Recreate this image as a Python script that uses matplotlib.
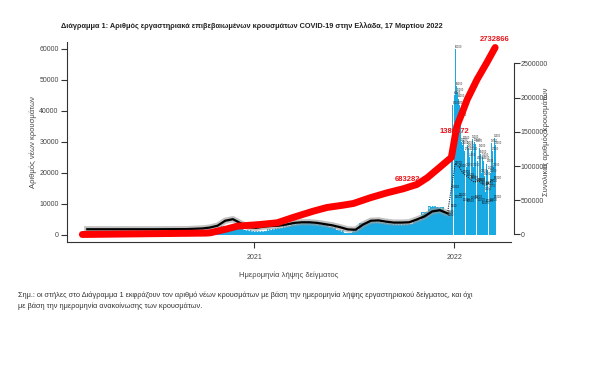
import matplotlib
matplotlib.use('Agg')
import matplotlib.pyplot as plt
import pandas as pd

plt.rcParams['font.family'] = ['Liberation Sans', 'DejaVu Sans']

# new cases (blue bars), two-week bins 2020-2021
bar_dates = pd.date_range('2020-02-24', periods=48, freq='14D')
bar_values = [100, 150, 150, 120, 80, 50, 30, 30, 40, 60, 80, 150, 250, 300,
              350, 500, 800, 1800, 3000, 3300, 2200, 1500, 1200, 1300, 1800,
              2300, 2800, 3500, 3800, 4000, 3700, 3300, 2600, 1500, 700, 1500,
              3800, 4300, 4300, 4000, 3600, 3500, 3700, 4800, 7500, 9500, 9000,
              7000]
# black smoothed line
avg_values = [1850, 1850, 1850, 1850, 1850, 1850, 1850, 1850, 1850, 1850, 1870,
              1880, 1890, 1900, 2000, 2100, 2400, 3000, 4600, 5100, 3800, 2600,
              2300, 2700, 2900, 3000, 3400, 3900, 4100, 4100, 3900, 3500, 3100,
              2500, 1800, 1700, 3400, 4600, 4700, 4300, 4000, 4000, 4100, 5000,
              6000, 7600, 8000, 7000]

# 2022 bars (two-day steps)
bar22_dates = pd.date_range('2021-12-27', '2022-03-17', freq='2D')
bar22_values = [30000, 42000, 45000, 60000, 48000, 46000, 44000, 42000, 38000,
                30000, 29000, 30500, 27000, 22000, 29000, 28000, 25000, 18000,
                27000, 31000, 22000, 30000, 29500, 24000, 17000, 28000, 26000,
                20000, 25000, 24000, 19000, 14000, 23000, 21000, 15000, 20000,
                29700, 27000, 22000, 31300, 29000]

avg22_dates = pd.to_datetime(['2021-12-20', '2021-12-27', '2022-01-03',
                              '2022-01-10', '2022-01-17', '2022-01-24',
                              '2022-01-31', '2022-02-07', '2022-02-14',
                              '2022-02-21', '2022-02-28', '2022-03-07',
                              '2022-03-14'])
avg22_values = [7000, 15000, 23000, 22000, 20000, 19000, 18000, 17000, 17500,
                16500, 16000, 17000, 18000]
low22_values = [6000, 9000, 12000, 12500, 11000, 10500, 11500, 12000, 11000,
                10000, 10500, 11000, 12000]

# cumulative cases (red line)
cum_dates = pd.to_datetime(['2020-02-22', '2020-10-04', '2020-10-13',
                            '2020-11-13', '2020-12-01', '2021-01-12',
                            '2021-02-12', '2021-03-13', '2021-04-19',
                            '2021-05-14', '2021-06-12', '2021-07-01',
                            '2021-08-01', '2021-09-01', '2021-09-30',
                            '2021-10-25', '2021-11-13', '2021-12-01',
                            '2021-12-19', '2021-12-27', '2022-01-06',
                            '2022-01-16', '2022-01-25', '2022-02-12',
                            '2022-03-02', '2022-03-17'])
cum_values = [0, 20000, 25000, 83000, 121000, 146000, 171000, 249000, 341000,
              395000, 428000, 453000, 537000, 610000, 668000, 731000, 829000,
              950000, 1072000, 1126000, 1583000, 1784000, 1974000, 2266000,
              2515000, 2732866]

label_dates = pd.to_datetime(['2021-10-07', '2022-01-02', '2022-03-17'])
label_values = [683282, 1380372, 2732866]

blue = '#19a9e3'
grey = '#444444'

fig = plt.figure(figsize=(6, 3.68), dpi=100)
ax = fig.add_axes([0.1117, 0.3424, 0.74, 0.5435])

ax.bar(bar_dates, bar_values, width=14, align='edge', color=blue, linewidth=0)
ax.bar(bar22_dates, bar22_values, width=1.85, align='edge', color=blue, linewidth=0)
for d, v in zip(bar22_dates, bar22_values):
    ax.text(d, v + 400, str(v), fontsize=1.8, color='#333333', ha='left')
for d, v in zip(avg22_dates, avg22_values):
    ax.text(d, v, str(v), fontsize=2, color='#111111', ha='left')
for d, v in zip(avg22_dates, low22_values):
    ax.text(d, v, str(v), fontsize=2, color='#111111', ha='left')

mid = bar_dates + pd.Timedelta(days=7)
ax.plot(mid, bar_values, color='white', lw=1.0, ls=(0, (1, 1)))
ax.plot(mid, avg_values, color='#999999', lw=4.5, alpha=0.6)
ax.plot(mid, avg_values, color='black', lw=1.6)
ax.plot(avg22_dates, avg22_values, color='#222222', lw=0.8, ls=(0, (1, 1)))

ax.set_xlim(pd.Timestamp('2020-01-25'), pd.Timestamp('2022-04-15'))
ax.set_ylim(-2260, 62260)
ax.set_yticks(range(0, 60001, 10000))
ax.set_xticks(pd.to_datetime(['2021-01-01', '2022-01-01']))
ax.set_xticklabels(['2021', '2022'])
for s in ['top', 'right']:
    ax.spines[s].set_visible(False)
for s in ['left', 'bottom']:
    ax.spines[s].set_color('#333333')
    ax.spines[s].set_linewidth(0.8)
ax.tick_params(length=4, width=0.8, color='#333333', labelsize=5,
               labelcolor=grey, pad=2)
ax.tick_params(axis='x', pad=5)
ax.set_xlabel('Ημερομηνία λήψης δείγματος', fontsize=5.5, color=grey, labelpad=7)
ax.set_ylabel('Αριθμός νέων κρουσμάτων', fontsize=5.5, color=grey)
ax.yaxis.set_label_coords(-0.068, 0.5)

ax2 = ax.twinx()
ax2.plot(cum_dates, cum_values, color='#ff0000', lw=5, solid_capstyle='round')
for d, v in zip(label_dates, label_values):
    ax2.annotate(str(v), (d, v), xytext=(0, 5), textcoords='offset points',
                 ha='center', fontsize=5.5, fontweight='bold', color='#e8141b')
ax2.set_ylim(-110000, 2814000)
ax2.set_yticks(range(0, 2500001, 500000))
ax2.set_yticklabels([str(v) for v in range(0, 2500001, 500000)], rotation=90,
                    va='center')
for s in ['top', 'left', 'bottom']:
    ax2.spines[s].set_visible(False)
ax2.spines['right'].set_bounds(0, 2500000)
ax2.spines['right'].set_position(('outward', 2))
ax2.spines['right'].set_color('#333333')
ax2.spines['right'].set_linewidth(0.8)
ax2.tick_params(length=4, width=0.8, color='#333333', labelsize=5,
                labelcolor=grey, pad=1)
ax2.set_ylabel('Συνολικός αριθμός κρουσμάτων', fontsize=5.5, color=grey,
               rotation=90)
ax2.yaxis.set_label_coords(1.07, 0.5)

fig.text(0.42, 0.929, 'Διάγραμμα 1: Αριθμός εργαστηριακά επιβεβαιωμένων κρουσμάτων '
         'COVID-19 στην Ελλάδα, 17 Μαρτίου 2022', ha='center', va='center',
         fontsize=5.3, fontweight='bold', color='#222222')
fig.text(0.03, 0.198, 'Σημ.: οι στήλες στο Διάγραμμα 1 εκφράζουν τον αριθμό νέων '
         'κρουσμάτων με βάση την ημερομηνία λήψης εργαστηριακού δείγματος, και όχι',
         ha='left', va='center', fontsize=5.35, color='#333333')
fig.text(0.03, 0.168, 'με βάση την ημερομηνία ανακοίνωσης των κρουσμάτων.',
         ha='left', va='center', fontsize=5.35, color='#333333')

fig.savefig('out.png', dpi=100)
